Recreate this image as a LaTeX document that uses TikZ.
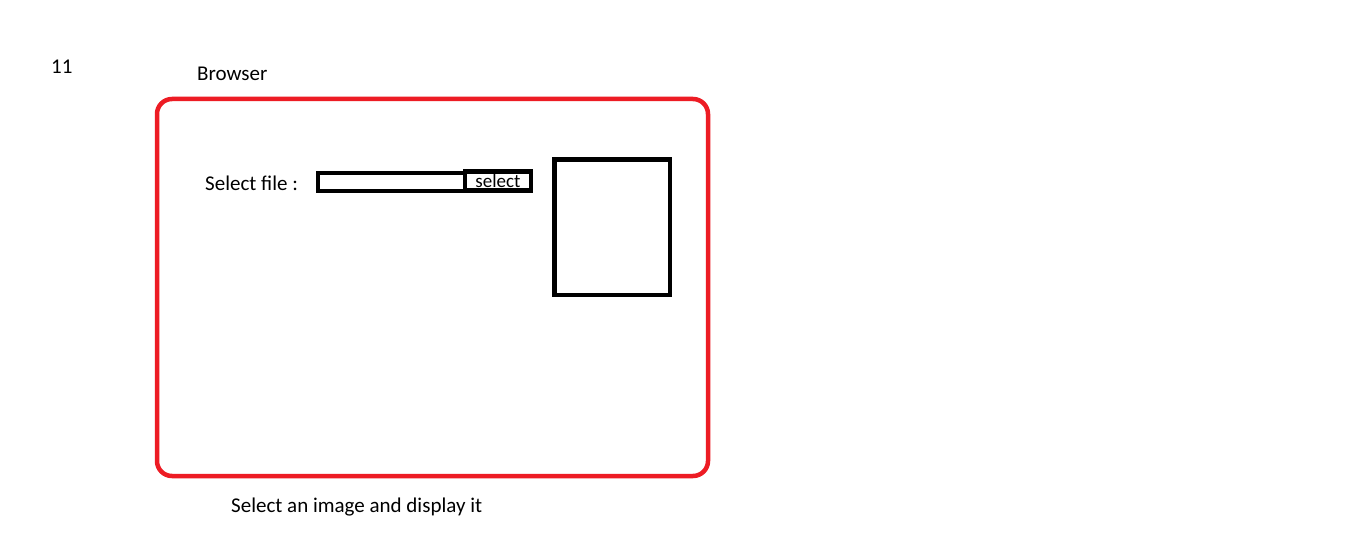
\documentclass[tikz,border=0pt]{standalone}
\usepackage{fontspec}
\setmainfont{Carlito}
\definecolor{paintred}{RGB}{237,28,36}
\tikzset{
  lbl/.style={inner sep=0pt, font=\fontsize{21}{24}\selectfont, text=black},
  blk/.style={draw=black, line width=4.5pt, fill=white}
}
\begin{document}
\begin{tikzpicture}[x=1pt,y=-1pt]
\useasboundingbox (0,0) rectangle (1348,548);
\fill[white] (0,0) rectangle (1348,548);
% browser frame
\draw[paintred, line width=4.5pt, rounded corners=15pt] (157,99) rectangle (708,476);
% input box and button
\draw[blk] (318,173) rectangle (465,191);
\draw[blk] (465,171.5) rectangle (531,190.5);
% image area
\draw[blk] (554.5,159.5) rectangle (670,295);
% texts
\node[lbl, anchor=west] (num) at (51,66.5) {11};
\node[lbl, anchor=west] (browser) at (197,73.5) {Browser};
\node[lbl, anchor=west] (selfile) at (205,183.5) {Select file :};
\node[lbl, anchor=base, font=\fontsize{19}{22}\selectfont] (btn) at (498,187) {select};
\node[lbl, anchor=west] (caption) at (231,507.5) {Select an image and display it};
\end{tikzpicture}
\end{document}
